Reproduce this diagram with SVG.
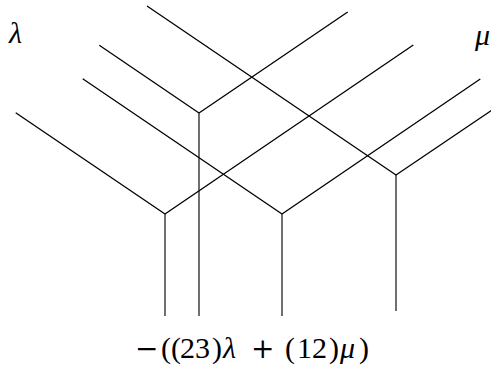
<svg xmlns="http://www.w3.org/2000/svg" width="491" height="367" viewBox="0 0 491 367">
<style>
.e{fill:none;stroke:#000;stroke-width:1.3;stroke-linejoin:miter}
.v{fill:none;stroke:#333;stroke-width:1.4}
.m{font-family:"Liberation Serif","DejaVu Serif",serif;font-style:italic;fill:#000}
.t{font-family:"Liberation Serif","DejaVu Serif",serif;fill:#000}
.o{font-family:"DejaVu Serif","Liberation Serif",serif;font-style:normal}
</style>
<rect width="491" height="367" fill="#fff"/>
<g id="connectors">
<polyline class="e" points="99.3,45.3 199,113 347.7,12"/>
<line class="v" x1="199" y1="113" x2="199" y2="316"/>
<polyline class="e" points="15.7,112.7 165,214 413.3,45"/>
<line class="v" x1="165" y1="214" x2="165" y2="316"/>
<polyline class="e" points="82.7,78.7 282,214 480.3,79"/>
<line class="v" x1="282" y1="214" x2="282" y2="316"/>
<polyline class="e" points="147,6 396,175 492,110"/>
<line class="v" x1="396" y1="175" x2="396" y2="311"/>
</g>
<g id="label-lambda"><text class="m" x="9" y="43" font-size="30">λ</text></g>
<g id="label-mu"><text class="m" x="475" y="45" font-size="30">μ</text></g>
<g id="label-bottom"><text class="t" y="358" font-size="30"><tspan class="o" font-size="28" x="135">−</tspan><tspan x="161">((</tspan><tspan x="180">23</tspan><tspan x="212">)</tspan><tspan class="m" x="223">λ</tspan><tspan class="o" font-size="28" x="251">+</tspan><tspan x="285">(</tspan><tspan x="297">12</tspan><tspan x="329">)</tspan><tspan class="m" x="340">μ</tspan><tspan x="359">)</tspan></text></g>
</svg>
